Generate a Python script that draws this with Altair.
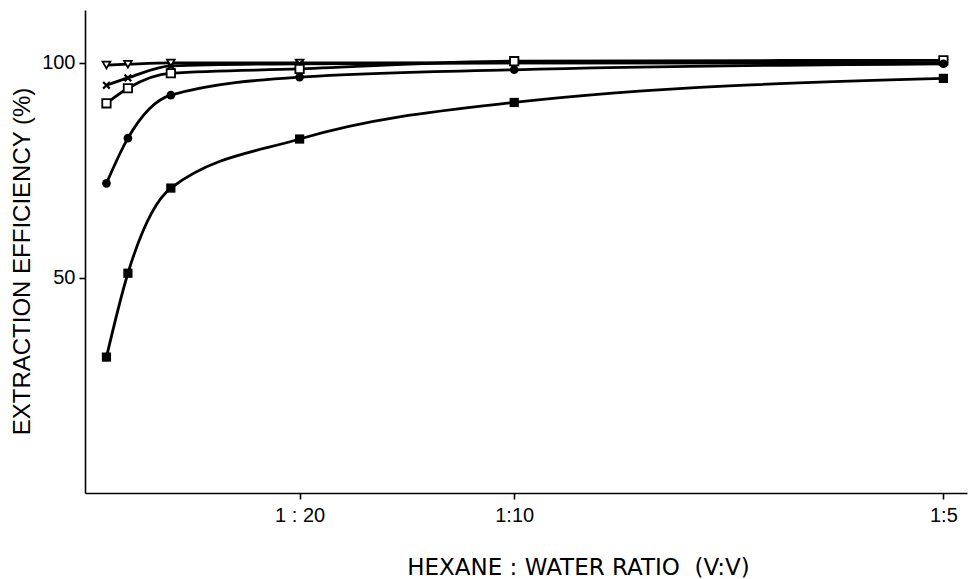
import altair as alt
import pandas as pd

# Hexane : water volume ratio (as a fraction)
ratio = [0.005, 0.01, 0.02, 0.05, 0.1, 0.2]

# Extraction efficiency (%) per series
s_triangle = [99.5, 99.7, 100.0, 100.0, 100.0, 100.0]
s_cross = [94.8, 96.5, 99.3, 99.8, 100.0, 100.0]
s_open_square = [90.6, 94.1, 97.6, 98.6, 100.4, 100.6]
s_filled_circle = [72.0, 82.5, 92.5, 96.7, 98.4, 99.8]
s_filled_square = [31.6, 51.1, 70.9, 82.3, 90.8, 96.4]

series_names = ["triangle", "cross", "open square", "filled circle", "filled square"]
series_values = [s_triangle, s_cross, s_open_square, s_filled_circle, s_filled_square]

x_ticks = [0.05, 0.1, 0.2]
x_tick_labels = ["1 : 20", "1:10", "1:5"]
y_ticks = [50, 100]

rows = []
for name, vals in zip(series_names, series_values):
    for xv, yv in zip(ratio, vals):
        rows.append({"series": name, "ratio": xv, "eff": yv})
df = pd.DataFrame(rows)

label_expr = ""
for i, (tv, tl) in enumerate(zip(x_ticks, x_tick_labels)):
    label_expr += f"abs(datum.value - {tv}) < 0.001 ? '{tl}' : "
label_expr += "''"

FONT = "Liberation Sans"

x_enc = alt.X(
    "ratio:Q",
    scale=alt.Scale(domain=[0, 0.2055], nice=False, zero=False),
    axis=alt.Axis(
        values=x_ticks,
        labelExpr=label_expr,
        title="HEXANE : WATER RATIO\u00a0\u00a0(V:V)",
        titleFontSize=23,
        titleFontWeight="normal",
        titleFont="DejaVu Sans",
        titlePadding=31,
        titleX=493,
        labelPadding=6,
        labelFontSize=20,
    ),
)
y_enc = alt.Y(
    "eff:Q",
    scale=alt.Scale(domain=[0, 112.3], nice=False, zero=False),
    axis=alt.Axis(
        values=y_ticks,
        title="EXTRACTION EFFICIENCY (%)",
        titleFontSize=24,
        titleFontWeight="normal",
        titlePadding=7,
        titleY=251,
        labelPadding=4,
        labelFontSize=20,
    ),
)

base = alt.Chart(df)

lines = base.mark_line(
    color="black", strokeWidth=2.8, interpolate="monotone"
).encode(x=x_enc, y=y_enc, detail="series:N")

cross_path = "M-1,-1L1,1M-1,1L1,-1"
marker_specs = {
    "triangle": dict(shape="triangle-down", filled=False, size=60, fill="white", stroke="black", strokeWidth=1.8),
    "cross": dict(shape=cross_path, filled=False, size=45, stroke="black", strokeWidth=2.2),
    "open square": dict(shape="square", filled=False, size=70, fill="white", stroke="black", strokeWidth=1.8),
    "filled circle": dict(shape="circle", filled=True, size=75, color="black"),
    "filled square": dict(shape="square", filled=True, size=85, color="black"),
}

layers = [lines]
for name in series_names:
    spec = marker_specs[name]
    layers.append(
        base.transform_filter(alt.datum.series == name)
        .mark_point(opacity=1, **spec)
        .encode(x=x_enc, y=y_enc)
    )

chart = (
    alt.layer(*layers)
    .properties(
        width=882,
        height=483,
        autosize=alt.AutoSizeParams(type="none"),
        padding={"left": 85, "top": 10, "right": 2, "bottom": 86},
        background="white",
    )
    .configure_view(stroke=None)
    .configure_axis(
        grid=False,
        domainColor="black",
        domainWidth=1.6,
        tickColor="black",
        tickWidth=1.6,
        tickSize=6,
        labelColor="black",
        titleColor="black",
        labelFont=FONT,
        titleFont=FONT,
    )
)

chart.save("out.html", embed_options={"renderer": "svg", "actions": False})
